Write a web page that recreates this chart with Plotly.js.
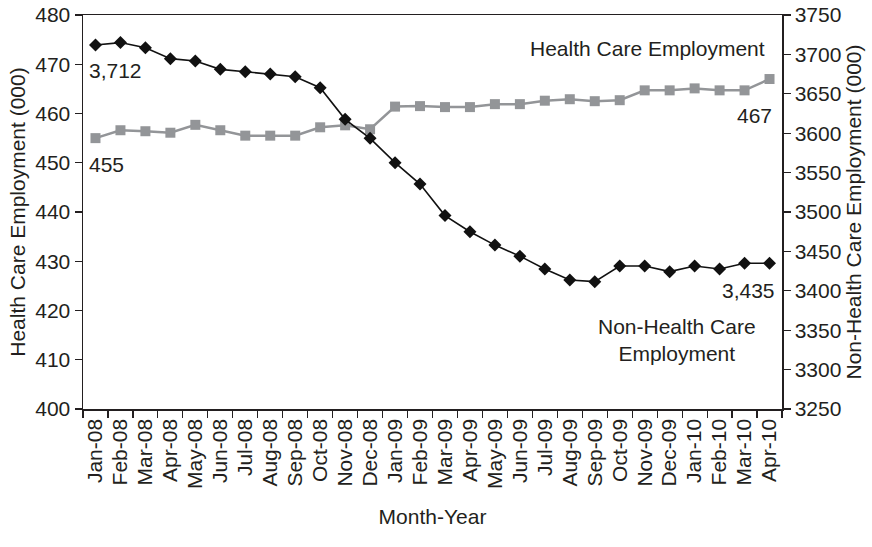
<!DOCTYPE html>
<html>
<head>
<meta charset="utf-8">
<script src="https://cdn.plot.ly/plotly-3.0.1.min.js"></script>
<style>
  html, body { margin: 0; padding: 0; background: #fff; }
  #chart { width: 872px; height: 547px; }
</style>
</head>
<body>
<div id="chart"></div>
<script>
// Monthly employment, thousands
const months = ["Jan-08","Feb-08","Mar-08","Apr-08","May-08","Jun-08","Jul-08","Aug-08","Sep-08","Oct-08","Nov-08","Dec-08",
                "Jan-09","Feb-09","Mar-09","Apr-09","May-09","Jun-09","Jul-09","Aug-09","Sep-09","Oct-09","Nov-09","Dec-09",
                "Jan-10","Feb-10","Mar-10","Apr-10"];

// Health care employment (left axis)
const healthCare = [455, 456.6, 456.4, 456.1, 457.7, 456.6, 455.5, 455.5, 455.5, 457.2, 457.6, 456.8,
                    461.4, 461.5, 461.3, 461.3, 461.9, 461.9, 462.6, 462.9, 462.5, 462.7, 464.7, 464.7,
                    465.1, 464.7, 464.7, 467];

// Non-health care employment (right axis)
const nonHealthCare = [3712, 3715, 3708.5, 3694.6, 3691.6, 3681, 3678, 3675, 3671.7, 3657.8, 3617.6, 3593.5,
                       3562.6, 3535.5, 3495.4, 3475, 3458, 3444, 3427.7, 3413.7, 3411.6, 3431.5, 3431.5, 3424.3,
                       3431.5, 3427.7, 3434.9, 3435];

const leftTicks = [400, 410, 420, 430, 440, 450, 460, 470, 480];
const rightTicks = [3250, 3300, 3350, 3400, 3450, 3500, 3550, 3600, 3650, 3700, 3750];

const ink = "#231f20";
const grey = "#939598";
const font = { family: "Liberation Sans, Arial, sans-serif", size: 21, color: ink };

const fmt = v => v.toLocaleString("en-US");
const last = months.length - 1;

const traces = [
  {
    x: months, y: healthCare, type: "scatter", mode: "lines+markers",
    name: "Health Care Employment",
    line: { color: grey, width: 2.5 },
    marker: { symbol: "square", size: 10, color: grey },
    yaxis: "y"
  },
  {
    x: months, y: nonHealthCare, type: "scatter", mode: "lines+markers",
    name: "Non-Health Care Employment",
    line: { color: "#111", width: 1.6 },
    marker: { symbol: "diamond", size: 10, color: "#111" },
    yaxis: "y2"
  }
];

const annotations = [
  { x: months[0], y: nonHealthCare[0], yref: "y2", text: fmt(nonHealthCare[0]),
    xanchor: "left", yanchor: "top", xshift: -8, yshift: -12, showarrow: false, font },
  { x: months[0], y: healthCare[0], yref: "y", text: fmt(healthCare[0]),
    xanchor: "left", yanchor: "top", xshift: -8, yshift: -13, showarrow: false, font },
  { x: months[last], y: healthCare[last], yref: "y", text: fmt(healthCare[last]),
    xanchor: "right", yanchor: "top", xshift: 4, yshift: -23, showarrow: false, font },
  { x: months[last], y: nonHealthCare[last], yref: "y2", text: fmt(nonHealthCare[last]),
    xanchor: "right", yanchor: "top", xshift: 7, yshift: -14, showarrow: false, font },
  { x: months[last], y: 0.914, yref: "paper", text: "Health Care Employment",
    xanchor: "right", yanchor: "middle", xshift: -3, showarrow: false, font },
  { x: 0.85, xref: "paper", y: 0.176, yref: "paper", text: "Non-Health Care<br>Employment",
    xanchor: "center", yanchor: "middle", align: "center", showarrow: false, font }
];

const layout = {
  width: 872, height: 547,
  margin: { l: 82.5, r: 90, t: 15, b: 138, pad: 0 },
  paper_bgcolor: "#fff", plot_bgcolor: "#fff",
  showlegend: false,
  font,
  xaxis: {
    type: "category",
    tickmode: "array", tickvals: months, ticktext: months,
    tickson: "boundaries", ticks: "outside", ticklen: 7, tickcolor: ink, tickwidth: 1.2,
    tickangle: -90, tickfont: font,
    showline: true, linecolor: ink, linewidth: 1.5, mirror: true,
    showgrid: false, zeroline: false,
    range: [-0.5, last + 0.5],
    title: { text: "Month-Year", font, standoff: 21 }
  },
  yaxis: {
    range: [400, 480], tickvals: leftTicks,
    ticks: "outside", ticklen: 7, tickcolor: ink, tickwidth: 1.2,
    showline: true, linecolor: ink, linewidth: 1.5,
    showgrid: false, zeroline: false, tickfont: font,
    title: { text: "Health Care Employment (000)", font, standoff: 4 }
  },
  yaxis2: {
    range: [3250, 3750], tickvals: rightTicks,
    overlaying: "y", side: "right",
    ticks: "outside", ticklen: 7, tickcolor: ink, tickwidth: 1.2,
    showline: true, linecolor: ink, linewidth: 1.5,
    showgrid: false, zeroline: false, tickfont: font,
    title: { text: "Non-Health Care Employment (000)", font, standoff: 6 }
  },
  annotations
};

Plotly.newPlot("chart", traces, layout, { displayModeBar: false, staticPlot: true });
</script>
</body>
</html>
